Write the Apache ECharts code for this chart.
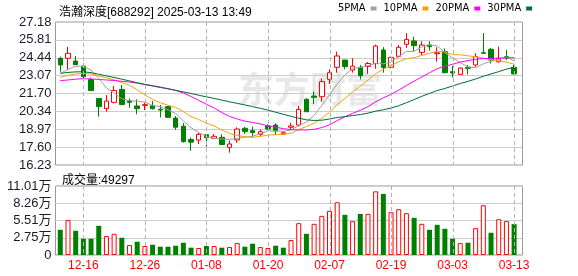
<!DOCTYPE html>
<html><head><meta charset="utf-8">
<script src="https://cdn.jsdelivr.net/npm/echarts@6/dist/echarts.min.js"></script>
<style>html,body{margin:0;padding:0;background:#fff}#c{width:578px;height:276px}</style>
</head><body><div id="c"></div>
<script>
const dates = ['12-11','12-12','12-13','12-16','12-17','12-18','12-19','12-20','12-23','12-24','12-25','12-26','12-27','12-30','12-31',
  '01-02','01-03','01-06','01-07','01-08','01-09','01-10','01-13','01-14','01-15','01-16','01-17','01-20','01-21','01-22','01-23','01-24','01-27',
  '02-05','02-06','02-07','02-10','02-11','02-12','02-13','02-14','02-17','02-18','02-19','02-20','02-21','02-24','02-25','02-26','02-27','02-28',
  '03-03','03-04','03-05','03-06','03-07','03-10','03-11','03-12','03-13'];
const opens  = [24.40,24.40,24.19,23.81,22.77,21.33,20.55,21.03,22.02,21.13,20.75,20.80,20.77,20.50,20.70,19.82,19.20,18.18,18.14,18.55,
  18.27,18.35,17.58,18.15,19.04,18.86,18.58,19.22,19.29,18.60,19.12,19.29,21.26,21.51,21.46,22.79,23.71,24.27,23.50,23.71,
  23.78,24.00,25.04,23.71,24.55,25.47,25.73,24.85,25.42,24.75,24.91,23.38,23.17,23.71,23.89,24.83,25.09,24.14,24.52,23.71];
const closes = [23.89,24.78,23.91,22.99,21.93,20.70,21.12,21.93,20.86,21.03,20.54,20.85,20.54,20.44,19.88,19.12,18.02,17.98,18.58,18.32,
  18.43,17.80,17.84,18.98,18.80,18.71,18.78,18.99,18.86,18.70,19.22,20.49,20.31,21.41,22.61,23.30,24.58,23.76,23.80,23.07,
  24.00,25.34,23.70,24.47,25.24,25.85,25.37,25.42,25.29,24.82,23.30,23.28,23.65,23.63,24.53,24.78,24.27,24.40,24.42,23.20];
const lows   = [23.37,23.55,23.89,22.87,21.92,19.93,20.31,20.95,20.80,20.62,20.11,20.44,20.49,19.88,19.88,18.93,17.94,17.33,17.84,17.63,
  18.20,17.76,17.17,17.94,18.60,18.35,18.45,18.91,18.53,18.55,18.96,19.17,20.31,20.90,21.08,22.43,23.30,23.56,23.30,22.78,
  23.20,23.60,23.30,23.63,24.47,25.20,24.95,24.65,24.98,24.14,23.25,22.93,23.17,23.17,23.76,24.78,24.00,24.07,24.27,23.20];
const highs  = [24.53,25.27,24.58,24.00,22.93,21.33,21.59,22.28,22.36,21.33,21.26,21.00,21.13,20.83,20.75,19.98,19.45,18.34,18.71,18.58,
  18.60,18.58,18.10,19.12,19.15,19.17,18.96,19.35,19.42,18.78,19.47,20.75,21.34,21.85,22.87,23.56,24.91,24.27,24.40,23.89,
  24.12,25.45,25.25,24.53,25.42,26.33,26.06,25.70,25.70,25.25,25.15,23.82,23.68,23.89,24.78,26.33,25.20,25.30,25.04,23.89];
const volumes = [40230,55580,38640,25940,25940,46580,30170,33880,27520,15880,21170,14290,16410,13230,13230,14820,19580,11640,11120,14290,
  14290,11640,12700,19060,13230,18000,12700,11120,14820,11640,23820,50810,33880,49760,62460,70400,84160,64050,53990,65630,
  65630,101630,97390,68280,73040,66690,59280,49760,40230,48170,41810,25940,19060,19580,42870,79400,35460,57160,53990,49297];
const ma5  = [23.25,23.55,23.78,23.80,23.50,22.86,22.13,21.73,21.31,21.15,21.12,21.06,20.78,20.70,20.45,20.17,19.60,19.09,18.72,18.40,
  18.27,18.22,18.19,18.27,18.37,18.43,18.62,18.85,18.83,18.81,18.91,19.25,19.52,20.03,20.81,21.62,22.44,23.13,23.61,23.70,
  23.84,24.00,23.98,24.12,24.55,24.92,24.93,25.27,25.43,25.35,24.84,24.43,24.07,23.74,23.68,23.98,24.17,24.32,24.48,24.21];
const ma10 = [22.95,23.10,23.20,23.25,23.20,23.05,22.90,22.75,22.55,22.32,21.99,21.60,21.26,21.00,20.80,20.64,20.33,19.94,19.71,19.43,
  19.22,18.91,18.64,18.50,18.39,18.35,18.42,18.52,18.55,18.59,18.67,18.94,19.18,19.43,19.81,20.27,20.85,21.32,21.82,22.26,
  22.73,23.22,23.56,23.86,24.13,24.37,24.45,24.62,24.78,24.95,24.88,24.68,24.67,24.59,24.52,24.41,24.30,24.20,24.11,23.95];
const ma20 = [22.69,22.74,22.80,22.84,22.82,22.78,22.74,22.70,22.64,22.58,22.50,22.40,22.30,22.20,22.08,21.94,21.74,21.48,21.18,20.88,
  20.60,20.25,19.95,19.75,19.59,19.49,19.38,19.23,19.13,19.01,18.94,18.92,18.91,18.96,19.10,19.31,19.63,19.92,20.18,20.42,
  20.70,21.07,21.37,21.64,21.96,22.32,22.65,22.97,23.29,23.60,23.80,23.94,24.11,24.22,24.32,24.39,24.38,24.41,24.44,24.45];
const ma30 = [23.25,23.32,23.36,23.37,23.30,23.18,23.05,22.93,22.80,22.67,22.53,22.40,22.28,22.17,22.06,21.95,21.83,21.70,21.57,21.45,
  21.33,21.20,21.07,20.95,20.83,20.70,20.57,20.43,20.27,20.11,19.96,19.81,19.69,19.64,19.66,19.75,19.87,19.93,20.02,20.09,
  20.20,20.35,20.46,20.59,20.77,21.00,21.24,21.49,21.71,21.93,22.09,22.28,22.47,22.63,22.82,23.02,23.20,23.38,23.57,23.72];
const priceTicks = ['16.23','17.60','18.97','20.34','21.70','23.07','24.44','25.81','27.18'];
const volTicks = ['0','2.75万','5.51万','8.26万','11.01万'];
const xTickLabels = ['12-16','12-26','01-08','01-20','02-07','02-19','03-03','03-13'];
const maNames = ['5PMA','10PMA','20PMA','30PMA'];
const prevClose = 24.40;
const priceMin = 16.23, priceMax = 27.18, volMax = 110100;
const titleText = '浩瀚深度[688292] 2025-03-13 13:49';

const RED = '#ff0000', GREEN = '#008000';
const FONT = "'Liberation Sans', 'Noto Sans CJK SC', sans-serif";
const candleData = dates.map((d, i) => [opens[i], closes[i], lows[i], highs[i]]);
const volData = volumes.map((v, i) => {
  const pc = i === 0 ? prevClose : closes[i - 1];
  const up = closes[i] >= pc;
  return { value: v, itemStyle: up ? { color: '#ffffff', borderColor: RED, borderWidth: 1 } : { color: GREEN, borderColor: GREEN, borderWidth: 0 } };
});
const isTick = (idx, val) => xTickLabels.includes(val);

const chart = echarts.init(document.getElementById('c'), null, { renderer: 'canvas' });
const maColors = ['#a0a0a0', '#f5a300', '#ff00ff', '#006b36'];
const maData = [ma5, ma10, ma20, ma30];
const watermark = { id: 'wm', type: 'text', left: 238, top: 71, z: 0, silent: true,
  style: { text: '东方财富', font: 'bold 36px "Noto Sans CJK SC"', fill: 'rgba(205,205,205,0.45)' } };
chart.setOption({
  animation: false,
  backgroundColor: '#ffffff',
  title: [
    { text: titleText, left: 54, top: 2, textStyle: { fontSize: 12, fontWeight: 'normal', color: '#000', fontFamily: FONT } },
    { text: '成交量:' + volumes[volumes.length - 1], left: 57, top: 170, textStyle: { fontSize: 12, fontWeight: 'normal', color: '#000', fontFamily: FONT } }
  ],
  legend: { data: maNames, left: 338, top: 3, icon: 'rect', itemWidth: 6, itemHeight: 4, itemGap: 7, align: 'right', padding: 0,
    textStyle: { fontSize: 11, color: '#000', fontFamily: "'Liberation Sans Narrow', 'DejaVu Sans Condensed', sans-serif" } },
  graphic: [watermark],
  grid: [
    { left: 56.45, top: 22, width: 461.5, height: 143, outerBoundsMode: 'none' },
    { left: 56.45, top: 186, width: 461.5, height: 69, outerBoundsMode: 'none' },
    { left: 55.5, top: 22, width: 467, height: 143, show: true, borderColor: '#999', borderWidth: 1, backgroundColor: 'transparent', outerBoundsMode: 'none' },
    { left: 55.5, top: 186, width: 467, height: 69, show: true, borderColor: '#999', borderWidth: 1, backgroundColor: 'transparent', outerBoundsMode: 'none' }
  ],
  xAxis: [
    { type: 'category', gridIndex: 0, data: dates, boundaryGap: true, axisLine: { show: false }, axisTick: { show: false }, axisLabel: { show: false }, splitLine: { show: false } },
    { type: 'category', gridIndex: 1, data: dates, boundaryGap: true, axisLine: { show: false }, axisTick: { show: false }, splitLine: { show: false },
      axisLabel: { interval: isTick, color: RED, fontSize: 12, margin: 5, fontFamily: FONT, hideOverlap: false } },
    { type: 'value', gridIndex: 2, min: 0, max: 1, show: false },
    { type: 'value', gridIndex: 3, min: 0, max: 1, show: false }
  ],
  yAxis: [
    { type: 'value', gridIndex: 0, min: priceMin, max: priceMax, show: false, splitLine: { show: false } },
    { type: 'value', gridIndex: 1, min: 0, max: volMax, show: false, splitLine: { show: false } },
    { type: 'value', gridIndex: 2, min: 0, max: priceTicks.length - 1, interval: 1,
      axisLine: { show: false }, axisTick: { show: false },
      axisLabel: { formatter: v => priceTicks[v], fontSize: 13, color: '#1a1a2a', margin: 4, fontFamily: FONT, showMinLabel: true, showMaxLabel: true, hideOverlap: false },
      splitLine: { show: true, lineStyle: { color: '#cccccc', width: 1, type: 'solid' } } },
    { type: 'value', gridIndex: 3, min: 0, max: volTicks.length - 1, interval: 1,
      axisLine: { show: false }, axisTick: { show: false },
      axisLabel: { formatter: v => volTicks[v], fontSize: 13, color: '#1a1a2a', margin: 4, fontFamily: FONT, showMinLabel: true, showMaxLabel: true, hideOverlap: false },
      splitLine: { show: true, lineStyle: { color: '#cccccc', width: 1, type: 'solid' } } }
  ],
  series: [
    { type: 'candlestick', name: 'K', xAxisIndex: 0, yAxisIndex: 0, data: candleData, barWidth: 5,
      itemStyle: { color: '#ffffff', color0: GREEN, borderColor: RED, borderColor0: GREEN, borderWidth: 1 }, z: 3 },
    ...maNames.map((n, k) => ({ type: 'line', name: n, xAxisIndex: 0, yAxisIndex: 0, data: maData[k], showSymbol: false, symbol: 'none',
      lineStyle: { color: maColors[k], width: 1 }, itemStyle: { color: maColors[k] }, z: 4, silent: true })),
    { type: 'bar', name: 'VOL', xAxisIndex: 1, yAxisIndex: 1, data: volData, barWidth: 5, z: 3 }
  ]
});

// vertical dashed guides at the labelled dates, positioned through the axes' own scales
const guides = [];
xTickLabels.forEach((d, k) => {
  const idx = dates.indexOf(d);
  const px = chart.convertToPixel({ gridIndex: 0 }, [idx, priceMax]);
  const pb = chart.convertToPixel({ gridIndex: 0 }, [idx, priceMin]);
  const vt = chart.convertToPixel({ gridIndex: 1 }, [idx, volMax]);
  const vb = chart.convertToPixel({ gridIndex: 1 }, [idx, 0]);
  const x = Math.round(px[0]) + 0.5;
  [[px[1], pb[1]], [vt[1], vb[1]]].forEach((seg, j) => guides.push({
    id: 'g' + k + '_' + j, type: 'line', silent: true, z: 5,
    shape: { x1: x, y1: seg[0], x2: x, y2: seg[1] },
    style: { stroke: '#b4b4b4', lineWidth: 1, lineDash: [4, 3] }
  }));
});
chart.setOption({ graphic: [watermark].concat(guides) });
</script>
</body></html>
